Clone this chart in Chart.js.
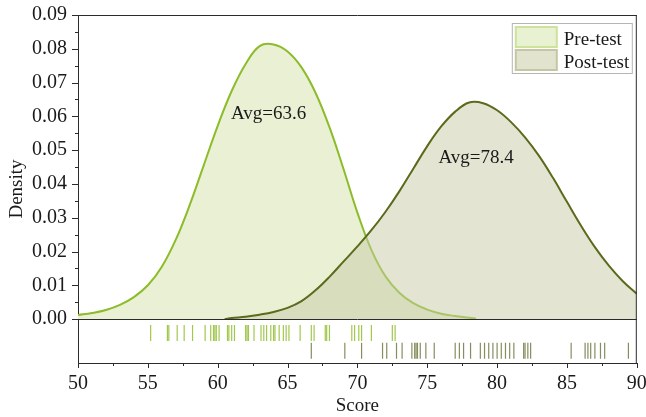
<!DOCTYPE html>
<html>
<head>
<meta charset="utf-8">
<script src="https://cdn.jsdelivr.net/npm/chart.js@4.4.0/dist/chart.umd.min.js"></script>
<style>
  html, body { margin: 0; padding: 0; background: #fff; }
  #wrap { position: relative; width: 646px; height: 417px; }
</style>
</head>
<body>
<div id="wrap"><canvas id="chart"></canvas></div>
<script>
// density curves
var preScore = [50, 51, 52, 53, 54, 55, 56, 57, 58, 59, 60, 61, 62, 63, 64, 65, 66, 67, 68, 69, 70, 71, 72, 73, 74, 75, 76, 77, 78, 78.5];
var preDensity = [0.0012, 0.0018, 0.0027, 0.0042, 0.0065, 0.0100, 0.0155, 0.0235, 0.0338, 0.0455, 0.0572, 0.0675, 0.0755, 0.0808, 0.0813, 0.0792, 0.0745, 0.0670, 0.0568, 0.0445, 0.0315, 0.0205, 0.0127, 0.0078, 0.0047, 0.0028, 0.0016, 0.0009, 0.0004, 0.0001];

var postScore = [60.5, 61, 62, 63, 64, 65, 66, 67, 68, 69, 70, 71, 72, 73, 74, 75, 76, 77, 78, 79, 80, 81, 82, 83, 84, 85, 86, 87, 88, 89, 90];
var postDensity = [0.0, 0.0003, 0.0007, 0.0013, 0.0021, 0.0033, 0.0053, 0.0085, 0.0125, 0.0170, 0.0215, 0.0263, 0.0317, 0.0378, 0.0445, 0.0512, 0.0570, 0.0614, 0.0641, 0.0639, 0.0618, 0.0583, 0.0538, 0.0483, 0.0418, 0.0347, 0.0277, 0.0213, 0.0158, 0.0112, 0.0075];

// rug marks (individual scores)
var preRug = [55.2, 56.4, 56.5, 57.1, 57.6, 58.2, 59.1, 59.5, 59.7, 59.8, 59.9, 60.1, 60.7, 60.8, 61.0, 61.2, 62.0, 62.1, 62.2, 62.6, 63.1, 63.3, 63.5, 63.8, 64.0, 64.1, 64.4, 64.7, 64.9, 65.1, 65.9, 66.7, 66.9, 67.7, 67.8, 68.0, 69.6, 69.8, 70.1, 70.3, 71.0, 72.5, 72.7];
var postRug = [66.7, 69.1, 70.3, 71.8, 72.1, 72.8, 73.2, 73.9, 74.1, 74.2, 74.3, 74.5, 74.9, 75.5, 77.0, 77.3, 77.6, 78.1, 78.8, 79.1, 79.4, 79.7, 80.0, 80.3, 80.6, 80.9, 81.2, 81.9, 82.0, 82.2, 82.4, 85.3, 86.3, 86.5, 86.7, 87.0, 87.4, 87.7, 89.4];

var seriesNames = ['Pre-test', 'Post-test'];
var xTicks = [50, 55, 60, 65, 70, 75, 80, 85, 90];
var yTicks = [0, 0.01, 0.02, 0.03, 0.04, 0.05, 0.06, 0.07, 0.08, 0.09];
var avgText = ['Avg=63.6', 'Avg=78.4'];
var avgAt = [[60.95, 0.0592], [75.8, 0.0462]];

var FONT = "'Liberation Serif', 'Times New Roman', serif";
var PRE_RUG_Y = -0.0041, POST_RUG_Y = -0.0094;

function pts(xs, ys) {
    var out = [];
    for (var i = 0; i < xs.length; i++) out.push({ x: xs[i], y: ys[i] });
    return out;
}
function rug(xs, yv) {
    return xs.map(function (v) { return { x: v, y: yv }; });
}

var decor = {
    id: 'decor',
    afterDatasetsDraw: function (chart) {
        var ctx = chart.ctx, a = chart.chartArea;
        var xs = chart.scales.x, ys = chart.scales.y;
        ctx.save();
        ctx.strokeStyle = '#2b2b2b';
        ctx.lineWidth = 1;
        ctx.beginPath();
        // zero line + frame
        var y0 = Math.round(ys.getPixelForValue(0)) + 0.5;
        ctx.moveTo(a.left, y0); ctx.lineTo(a.right, y0);
        ctx.moveTo(a.left, a.top + 0.5); ctx.lineTo(a.right, a.top + 0.5);
        ctx.moveTo(a.right - 0.5, a.top); ctx.lineTo(a.right - 0.5, a.bottom);
        // y ticks (major + minor)
        yTicks.forEach(function (v, i) {
            var p = Math.round(ys.getPixelForValue(v)) + 0.5;
            ctx.moveTo(a.left - 6, p); ctx.lineTo(a.left, p);
            if (i < yTicks.length - 1) {
                var m = Math.round(ys.getPixelForValue((v + yTicks[i + 1]) / 2)) + 0.5;
                ctx.moveTo(a.left - 3, m); ctx.lineTo(a.left, m);
            }
        });
        // x ticks (major + minor)
        xTicks.forEach(function (v, i) {
            var p = Math.round(xs.getPixelForValue(v)) + 0.5;
            ctx.moveTo(p, a.bottom); ctx.lineTo(p, a.bottom + 5);
            if (i < xTicks.length - 1) {
                var m = Math.round(xs.getPixelForValue((v + xTicks[i + 1]) / 2)) + 0.5;
                ctx.moveTo(m, a.bottom); ctx.lineTo(m, a.bottom + 3);
            }
        });
        ctx.stroke();

        // average labels
        ctx.fillStyle = '#1a1a1a';
        ctx.font = '19px ' + FONT;
        ctx.textBaseline = 'alphabetic';
        ctx.textAlign = 'left';
        for (var k = 0; k < avgText.length; k++) {
            ctx.fillText(avgText[k], xs.getPixelForValue(avgAt[k][0]), ys.getPixelForValue(avgAt[k][1]));
        }

        // legend box
        var lx = a.right - 125, ly = a.top + 8;
        ctx.fillStyle = '#fff';
        ctx.fillRect(lx, ly, 121, 51);
        ctx.strokeStyle = '#b5b5b5';
        ctx.strokeRect(lx + 0.5, ly + 0.5, 120, 50);
        ctx.lineWidth = 2;
        ctx.fillStyle = '#e9f1d3';
        ctx.strokeStyle = '#cde29a';
        ctx.fillRect(lx + 4, ly + 4, 41, 20);
        ctx.strokeRect(lx + 4, ly + 4, 41, 20);
        ctx.fillStyle = '#e1e3cf';
        ctx.strokeStyle = '#c3c7a2';
        ctx.fillRect(lx + 4, ly + 27, 41, 20);
        ctx.strokeRect(lx + 4, ly + 27, 41, 20);
        ctx.fillStyle = '#1a1a1a';
        ctx.fillText(seriesNames[0], lx + 52, ly + 22);
        ctx.fillText(seriesNames[1], lx + 52, ly + 45);
        ctx.restore();
    }
};

var ctx = document.getElementById('chart').getContext('2d');
var chart = new Chart(ctx, {
    type: 'line',
    data: {
        datasets: [
            {
                label: seriesNames[0],
                data: pts(preScore, preDensity),
                borderColor: '#8cbc2a',
                backgroundColor: 'rgba(233,240,212,1)',
                borderWidth: 2,
                fill: 'origin',
                pointRadius: 0,
                tension: 0.4,
                order: 3
            },
            {
                label: seriesNames[1],
                data: pts(postScore, postDensity),
                borderColor: '#5c6a1c',
                backgroundColor: 'rgba(199,203,165,0.5)',
                borderWidth: 2,
                fill: 'origin',
                pointRadius: 0,
                tension: 0.4,
                order: 2
            },
            {
                label: 'pre rug',
                data: rug(preRug, PRE_RUG_Y),
                showLine: false,
                pointStyle: 'line',
                rotation: 90,
                pointRadius: 8,
                pointBorderWidth: 1.2,
                pointBorderColor: 'rgba(145,190,45,0.85)',
                order: 1
            },
            {
                label: 'post rug',
                data: rug(postRug, POST_RUG_Y),
                showLine: false,
                pointStyle: 'line',
                rotation: 90,
                pointRadius: 8,
                pointBorderWidth: 1.2,
                pointBorderColor: 'rgba(105,112,55,0.8)',
                order: 1
            }
        ]
    },
    options: {
        responsive: true,
        maintainAspectRatio: false,
        animation: false,
        events: [],
        layout: { padding: { top: 15, right: 8, left: 0, bottom: 0 } },
        plugins: {
            legend: { display: false },
            tooltip: { enabled: false }
        },
        scales: {
            x: {
                type: 'linear',
                min: 50,
                max: 90,
                grid: { display: false, drawTicks: false },
                border: { display: true, color: '#2b2b2b', width: 1 },
                afterBuildTicks: function (s) { s.ticks = xTicks.map(function (v) { return { value: v }; }); },
                ticks: {
                    padding: 9,
                    color: '#1a1a1a',
                    font: { family: FONT, size: 20 },
                    maxRotation: 0,
                    autoSkip: false
                },
                title: {
                    display: true,
                    text: 'Score',
                    color: '#1a1a1a',
                    font: { family: FONT, size: 19 },
                    padding: { top: 0, bottom: 0 }
                },
                afterFit: function (s) { s.height = 54; s.paddingLeft = 0; s.paddingRight = 0; }
            },
            y: {
                min: -0.013,
                max: 0.09,
                grid: { display: false, drawTicks: false },
                border: { display: true, color: '#2b2b2b', width: 1 },
                afterBuildTicks: function (s) { s.ticks = yTicks.map(function (v) { return { value: v }; }); },
                ticks: {
                    padding: 11,
                    color: '#1a1a1a',
                    font: { family: FONT, size: 20 },
                    callback: function (v) { return v.toFixed(2); }
                },
                title: {
                    display: true,
                    text: 'Density',
                    color: '#1a1a1a',
                    font: { family: FONT, size: 19 },
                    padding: { top: 6, bottom: 0 }
                },
                afterFit: function (s) { s.width = 78; s.paddingTop = 0; s.paddingBottom = 0; }
            }
        }
    },
    plugins: [decor]
});
</script>
</body>
</html>
